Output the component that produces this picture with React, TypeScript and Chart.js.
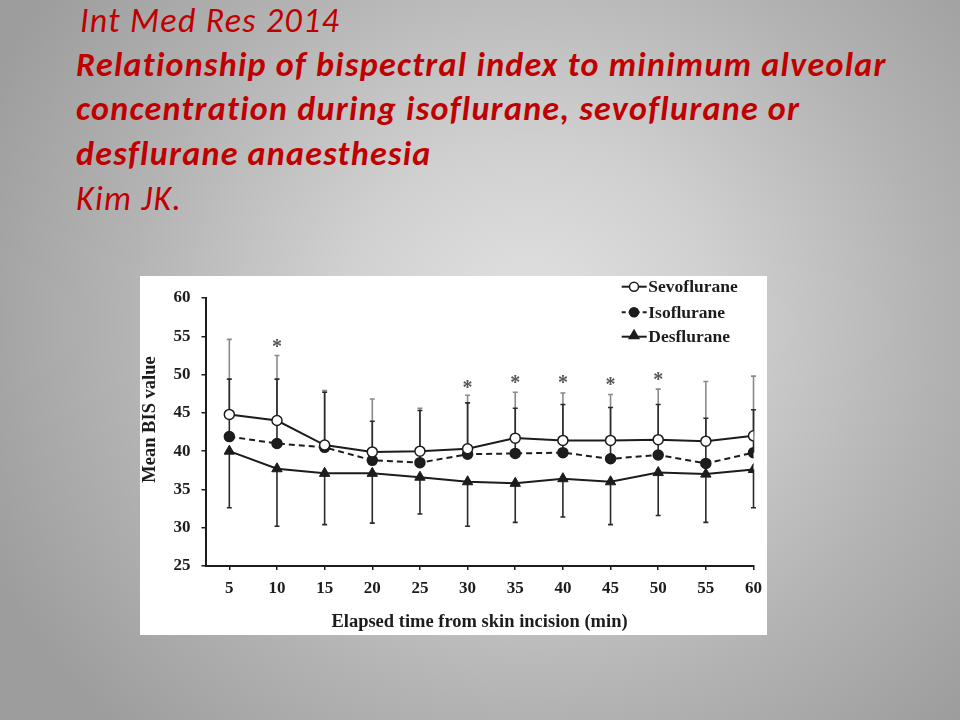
import React, { useEffect, useRef } from "react";
import { Chart, registerables } from "chart.js";

Chart.register(...registerables);

// ---- data ----
const minutes = [5, 10, 15, 20, 25, 30, 35, 40, 45, 50, 55, 60];
const sevoflurane = [44.8, 44.0, 40.8, 39.9, 40.0, 40.3, 41.7, 41.4, 41.4, 41.5, 41.3, 42.0];
const isoflurane = [41.9, 41.0, 40.5, 38.8, 38.5, 39.6, 39.7, 39.8, 39.0, 39.5, 38.4, 39.8];
const desflurane = [40.0, 37.7, 37.1, 37.1, 36.6, 36.0, 35.8, 36.4, 36.0, 37.2, 37.0, 37.6];
const sevoUpper = [54.6, 52.5, 47.9, 46.8, 45.6, 47.3, 47.7, 47.6, 47.4, 48.1, 49.1, 49.8];
const isoUpper = [49.4, 49.4, 47.7, 43.9, 45.3, 46.3, 45.6, 46.1, 45.7, 46.1, 44.3, 45.4];
const desLower = [32.6, 30.2, 30.4, 30.6, 31.8, 30.2, 30.7, 31.4, 30.4, 31.6, 30.7, 32.6];
const starMinutes = [10, 30, 35, 40, 45, 50];
const starValues = [54.2, 48.9, 49.5, 49.6, 49.3, 49.9];
const xTicks = [5, 10, 15, 20, 25, 30, 35, 40, 45, 50, 55, 60];
const yTicks = [25, 30, 35, 40, 45, 50, 55, 60];
const seriesNames = ["Sevoflurane", "Isoflurane", "Desflurane"];
const xTitle = "Elapsed time from skin incision (min)";
const yTitle = "Mean BIS value";
const headerLine = "Int Med Res 2014";
const titleLines = [
  "Relationship of bispectral index to minimum alveolar",
  "concentration during isoflurane, sevoflurane or",
  "desflurane anaesthesia",
];
const authorLine = "Kim JK.";

const INK = "#1c1c1c";
const SERIF = "'Liberation Serif', 'Times New Roman', serif";
const TITLE_FONT = "Carlito, Lato, 'Open Sans', sans-serif";

const toPoints = (vals: number[]) => minutes.map((m, i) => ({ x: m, y: vals[i] }));

function drawMarker(ctx: CanvasRenderingContext2D, kind: string, x: number, y: number, r: number) {
  ctx.save();
  ctx.lineWidth = 1.5;
  ctx.strokeStyle = INK;
  ctx.beginPath();
  if (kind === "triangle") {
    for (let k = 0; k < 3; k++) {
      const a = (k * 2 * Math.PI) / 3;
      const px = x + Math.sin(a) * r;
      const py = y - Math.cos(a) * r;
      if (k === 0) ctx.moveTo(px, py);
      else ctx.lineTo(px, py);
    }
    ctx.closePath();
    ctx.fillStyle = INK;
  } else {
    ctx.arc(x, y, r, 0, Math.PI * 2);
    ctx.fillStyle = kind === "open" ? "#ffffff" : INK;
  }
  ctx.fill();
  ctx.stroke();
  ctx.restore();
}

const errorBarPlugin = {
  id: "errorBars",
  beforeDatasetsDraw(chart: any) {
    const { ctx, scales } = chart;
    const xs = scales.x;
    const ys = scales.y;
    const bar = (m: number, from: number, to: number, color: string) => {
      const x = xs.getPixelForValue(m);
      const y0 = ys.getPixelForValue(from);
      const y1 = ys.getPixelForValue(to);
      ctx.save();
      ctx.strokeStyle = color;
      ctx.lineWidth = 1.6;
      ctx.beginPath();
      ctx.moveTo(x, y0);
      ctx.lineTo(x, y1);
      ctx.moveTo(x - 2.5, y1);
      ctx.lineTo(x + 2.5, y1);
      ctx.stroke();
      ctx.restore();
    };
    minutes.forEach((m, i) => bar(m, sevoflurane[i], sevoUpper[i], "#8a8a8a"));
    minutes.forEach((m, i) => bar(m, isoflurane[i], isoUpper[i], "#2a2a2a"));
    minutes.forEach((m, i) => bar(m, desflurane[i], desLower[i], "#2a2a2a"));
  },
};

const annotationPlugin = {
  id: "annotations",
  afterDraw(chart: any) {
    const { ctx, scales } = chart;
    const xs = scales.x;
    const ys = scales.y;
    ctx.save();
    // significance stars
    ctx.fillStyle = "#555555";
    ctx.font = `bold 20px ${SERIF}`;
    ctx.textAlign = "center";
    ctx.textBaseline = "alphabetic";
    starMinutes.forEach((m, i) => {
      ctx.fillText("*", xs.getPixelForValue(m), ys.getPixelForValue(starValues[i]) + 11);
    });
    // y-axis title
    ctx.fillStyle = INK;
    ctx.font = `bold 18.5px ${SERIF}`;
    ctx.textBaseline = "middle";
    ctx.translate(10.5, 143.5);
    ctx.rotate(-Math.PI / 2);
    ctx.fillText(yTitle, 0, 0);
    ctx.restore();

    // legend
    ctx.save();
    const kinds = ["open", "filled", "triangle"];
    const rowsY = [10.7, 36.2, 60.7];
    const lx0 = 481.7;
    const lx1 = 506.7;
    const mx = 494;
    seriesNames.forEach((name, i) => {
      const ds = chart.data.datasets[i];
      const y = rowsY[i];
      ctx.strokeStyle = INK;
      ctx.lineWidth = 2;
      ctx.setLineDash(ds.borderDash && ds.borderDash.length ? [4, 3] : []);
      ctx.beginPath();
      ctx.moveTo(lx0, y);
      ctx.lineTo(lx1, y);
      ctx.stroke();
      ctx.setLineDash([]);
      drawMarker(ctx, kinds[i], mx, kinds[i] === "triangle" ? y - 1 : y, kinds[i] === "triangle" ? 5.5 : 4.5);
      ctx.fillStyle = INK;
      ctx.font = `bold 17.5px ${SERIF}`;
      ctx.textAlign = "left";
      ctx.textBaseline = "middle";
      ctx.fillText(name, 508.3, y + 1);
    });
    ctx.restore();
  },
};

function BisChart() {
  const ref = useRef<HTMLCanvasElement | null>(null);
  useEffect(() => {
    if (!ref.current) return;
    const chart = new Chart(ref.current, {
      type: "line",
      data: {
        datasets: [
          {
            label: seriesNames[0],
            data: toPoints(sevoflurane),
            borderColor: INK,
            borderWidth: 2,
            pointStyle: "circle",
            pointRadius: 5,
            pointBorderWidth: 1.5,
            pointBackgroundColor: "#ffffff",
            pointBorderColor: INK,
            tension: 0,
          },
          {
            label: seriesNames[1],
            data: toPoints(isoflurane),
            borderColor: INK,
            borderWidth: 2,
            borderDash: [6, 4],
            pointStyle: "circle",
            pointRadius: 5,
            pointBorderWidth: 1.5,
            pointBackgroundColor: INK,
            pointBorderColor: INK,
            tension: 0,
          },
          {
            label: seriesNames[2],
            data: toPoints(desflurane),
            borderColor: INK,
            borderWidth: 2,
            pointStyle: "triangle",
            pointRadius: 6,
            pointBorderWidth: 1,
            pointBackgroundColor: INK,
            pointBorderColor: INK,
            tension: 0,
          },
        ],
      },
      options: {
        responsive: false,
        animation: false,
        layout: { padding: { top: 22, right: 13.5, left: 0, bottom: 0 } },
        plugins: {
          legend: { display: false },
          tooltip: { enabled: false },
        },
        scales: {
          x: {
            type: "linear",
            min: 2.5,
            max: 60,
            afterBuildTicks: (axis: any) => {
              axis.ticks = xTicks.map((v) => ({ value: v }));
            },
            afterFit: (axis: any) => {
              axis.height = 69;
              axis.paddingLeft = 0;
              axis.paddingRight = 0;
            },
            grid: { display: true, drawOnChartArea: false, tickLength: 4, color: INK, lineWidth: 1.5 },
            border: { display: true, color: INK, width: 2 },
            ticks: {
              color: INK,
              font: { family: SERIF, size: 17, weight: "bold" },
              padding: 8,
              autoSkip: false,
              maxRotation: 0,
            },
            title: {
              display: true,
              text: xTitle,
              color: INK,
              font: { family: SERIF, size: 18.5, weight: "bold" },
              padding: { top: 0, bottom: 2 },
            },
          },
          y: {
            type: "linear",
            min: 25,
            max: 60,
            afterBuildTicks: (axis: any) => {
              axis.ticks = yTicks.map((v) => ({ value: v }));
            },
            afterFit: (axis: any) => {
              axis.width = 65.5;
            },
            grid: { display: true, drawOnChartArea: false, tickLength: 4, color: INK, lineWidth: 1.5 },
            border: { display: true, color: INK, width: 2 },
            ticks: {
              color: INK,
              font: { family: SERIF, size: 17, weight: "bold" },
              padding: 11,
            },
          },
        },
      },
      plugins: [errorBarPlugin, annotationPlugin],
    } as any);
    return () => chart.destroy();
  }, []);
  return <canvas ref={ref} width={627} height={359} style={{ display: "block" }} />;
}

export default function App() {
  const lineStyle: React.CSSProperties = {
    position: "absolute",
    left: 0,
    whiteSpace: "nowrap",
    fontFamily: TITLE_FONT,
    fontStyle: "italic",
    fontSize: 34,
    letterSpacing: "1.3px",
    fontVariantLigatures: "none",
    lineHeight: "44px",
    color: "#c00000",
  };
  return (
    <div
      style={{
        position: "absolute",
        left: 0,
        top: 0,
        width: 960,
        height: 720,
        overflow: "hidden",
        background:
          "radial-gradient(ellipse 62% 78% at 55% 45%, #e2e2e2 0%, #d0d0d0 32%, #b3b3b3 68%, #9d9d9d 100%)",
      }}
    >
      <div style={{ position: "absolute", left: 76, top: -1.5 }}>
        <div style={{ ...lineStyle, top: 0, left: 4, fontWeight: 400 }}>{headerLine}</div>
        {titleLines.map((t, i) => (
          <div key={i} style={{ ...lineStyle, top: 44 + i * 44.6, fontWeight: 700 }}>
            {t}
          </div>
        ))}
        <div style={{ ...lineStyle, top: 44 + 3 * 44.6 + 1, fontWeight: 400 }}>{authorLine}</div>
      </div>
      <div
        style={{
          position: "absolute",
          left: 140,
          top: 276,
          width: 627,
          height: 359,
          background: "#ffffff",
        }}
      >
        <BisChart />
      </div>
    </div>
  );
}
